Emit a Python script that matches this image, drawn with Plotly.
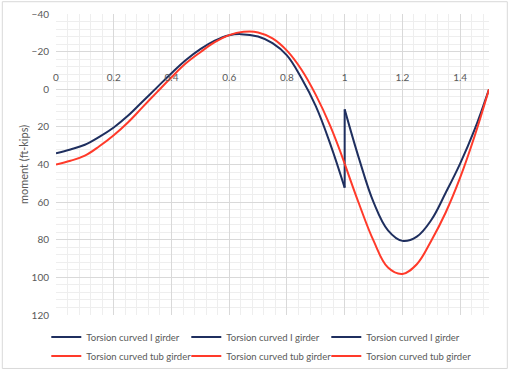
import plotly.graph_objects as go

# ---- data ----
i_span1_x = [0, 0.05, 0.1, 0.15, 0.2, 0.25, 0.3, 0.35, 0.4, 0.45, 0.5, 0.55, 0.6, 0.64, 0.7, 0.75, 0.8, 0.85, 0.9, 0.95, 1.0]
i_span1_y = [34, 32, 29.5, 25.3, 20.3, 14, 6.5, -1, -8.5, -15.5, -21.3, -25.8, -28.7, -29.3, -28, -24.5, -18, -6, 9, 29, 52.3]
i_jump_x = [1.0, 1.0]
i_jump_y = [52.3, 10.7]
i_span2_x = [1.0, 1.05, 1.1, 1.15, 1.2, 1.25, 1.3, 1.35, 1.4, 1.45, 1.5]
i_span2_y = [10.7, 37, 60, 75, 80.6, 78.3, 69.5, 55, 39.5, 21.5, 0]

t_span1_x = [0, 0.05, 0.1, 0.15, 0.2, 0.25, 0.3, 0.35, 0.4, 0.45, 0.5, 0.55, 0.6, 0.65, 0.7, 0.75, 0.8, 0.85, 0.9, 0.95, 1.0]
t_span1_y = [40, 38, 35.3, 30.3, 24.4, 17.5, 9.5, 1.5, -6.4, -13.8, -19.7, -25, -28.8, -30.5, -30.2, -27, -20.5, -10.5, 3, 19.5, 39.5]
t_jump_x = [1.0, 1.0]
t_jump_y = [39.5, 39.5]
t_span2_x = [1.0, 1.05, 1.1, 1.15, 1.2, 1.25, 1.3, 1.35, 1.4, 1.45, 1.5]
t_span2_y = [39.5, 61, 80.5, 94.8, 98.2, 93, 80.5, 65.5, 47, 25, 0]

series_names = ["Torsion curved I girder", "Torsion curved tub girder"]
x_ticks = [0, 0.2, 0.4, 0.6, 0.8, 1, 1.2, 1.4]
y_ticks = [-40, -20, 0, 20, 40, 60, 80, 100, 120]

NAVY = "#1f2f5f"
RED = "#ff3a2a"
FONT = "Lato, Liberation Sans, sans-serif"
GRAY = "#595959"

L, R, T, B = 55.7, 21.3, 14.3, 57.5
W, H = 510, 373
pw, ph = W - L - R, H - T - B

def px_x(p):
    return (p - L) / pw

def px_y(p):
    return (H - B - p) / ph

legend_cols = [46, 186, 326]   # left edge of each legend column, page px
legend_keys = ["legend", "legend2", "legend3"]

fig = go.Figure()
navy_sets = [(i_span1_x, i_span1_y), (i_jump_x, i_jump_y), (i_span2_x, i_span2_y)]
red_sets = [(t_span1_x, t_span1_y), (t_jump_x, t_jump_y), (t_span2_x, t_span2_y)]
for k, (xs, ys) in enumerate(navy_sets):
    fig.add_trace(go.Scatter(x=xs, y=ys, mode="lines", name=series_names[0], legend=legend_keys[k],
                             line=dict(color=NAVY, width=2, shape="spline", smoothing=1.1)))
for k, (xs, ys) in enumerate(red_sets):
    fig.add_trace(go.Scatter(x=xs, y=ys, mode="lines", name=series_names[1], legend=legend_keys[k],
                             line=dict(color=RED, width=2, shape="spline", smoothing=1.1)))

legend_layout = {}
for key, col in zip(legend_keys, legend_cols):
    legend_layout[key] = dict(orientation="v", x=px_x(col), xanchor="left",
                              y=px_y(323), yanchor="top", tracegroupgap=0,
                              bgcolor="rgba(0,0,0,0)", borderwidth=0,
                              font=dict(size=9.5, color=GRAY, family=FONT), itemwidth=30)

fig.update_layout(
    width=W, height=H,
    margin=dict(l=L, r=R, t=T, b=B, pad=0, autoexpand=False),
    paper_bgcolor="white", plot_bgcolor="white",
    font=dict(family=FONT, size=10, color=GRAY),
    showlegend=True,
    xaxis=dict(range=[0, 1.5], tickvals=x_ticks, ticktext=[str(v) for v in x_ticks],
               anchor="free", position=(120 / 160), side="top", showline=False,
               ticks="", zeroline=False, showgrid=True, gridcolor="#d9d9d9", gridwidth=1,
               automargin=False, ticklabelstandoff=6,
               minor=dict(dtick=0.04, showgrid=True, gridcolor="#eeeeee", gridwidth=1, tick0=0),
               tickfont=dict(size=10, color=GRAY)),
    yaxis=dict(range=[120, -40], tickvals=y_ticks, showline=False, ticks="",
               zeroline=False, showgrid=True, gridcolor="#d9d9d9", gridwidth=1,
               automargin=False,
               minor=dict(dtick=4, showgrid=True, gridcolor="#eeeeee", gridwidth=1, tick0=0),
               title=dict(text="moment (ft-kips)", font=dict(size=11, color=GRAY), standoff=0),
               tickfont=dict(size=10, color=GRAY), ticklabelstandoff=6),
    **legend_layout,
)

# chart-area border
fig.add_shape(type="rect", xref="paper", yref="paper",
              x0=px_x(2), x1=px_x(507), y0=px_y(369), y1=px_y(2),
              line=dict(color="#d9d9d9", width=1), fillcolor="rgba(0,0,0,0)", layer="below")

fig.write_html("out.html", config={"displayModeBar": False},
               post_script="document.body.style.margin='0';")
